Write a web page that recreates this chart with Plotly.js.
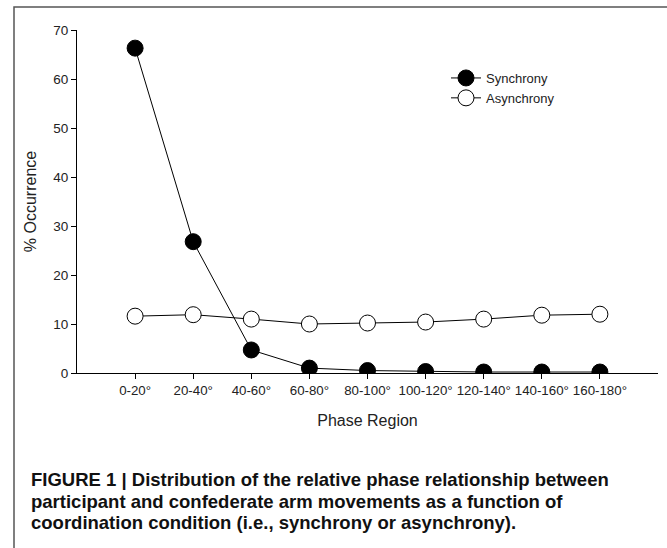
<!DOCTYPE html>
<html>
<head>
<meta charset="utf-8">
<script src="https://cdn.plot.ly/plotly-3.0.1.min.js"></script>
<style>
  html, body { margin: 0; padding: 0; background: #fff; }
  #chart { width: 667px; height: 548px; }
</style>
</head>
<body>
<div id="chart"></div>
<script>
const phaseRegions = ["0-20°", "20-40°", "40-60°", "60-80°", "80-100°", "100-120°", "120-140°", "140-160°", "160-180°"];
const synchrony = [66.3, 26.8, 4.7, 1.0, 0.5, 0.3, 0.2, 0.2, 0.2];
const asynchrony = [11.6, 11.9, 11.0, 10.0, 10.2, 10.4, 11.0, 11.8, 12.0];
const yTicks = [0, 10, 20, 30, 40, 50, 60, 70];
const captionLines = [
  "FIGURE 1 | Distribution of the relative phase relationship between",
  "participant and confederate arm movements as a function of",
  "coordination condition (i.e., synchrony or asynchrony)."
];

const L = 77, R = 9, T = 30, B = 175;
const W = 667, H = 548;
const pw = W - L - R, ph = H - T - B;
const px = x => (x - L) / pw;
const py = y => (H - B - y) / ph;

const traces = [
  {
    x: phaseRegions, y: synchrony, name: "Synchrony", type: "scatter", mode: "lines+markers",
    line: {color: "#000", width: 1},
    marker: {size: 16, color: "#000", line: {color: "#000", width: 1}}
  },
  {
    x: phaseRegions, y: asynchrony, name: "Asynchrony", type: "scatter", mode: "lines+markers",
    line: {color: "#000", width: 1},
    marker: {size: 16, color: "#fff", line: {color: "#000", width: 1}}
  }
];

const captionFont = {family: "Liberation Sans, Arial, sans-serif", size: 18.5, color: "#111"};
const annotations = captionLines.map((t, i) => ({
  text: "<b>" + t + "</b>", xref: "paper", yref: "paper",
  x: px(30), y: py(479.5 + i * 21.5), xanchor: "left", yanchor: "middle",
  showarrow: false, font: captionFont, align: "left", borderpad: 0
}));

const layout = {
  width: W, height: H,
  margin: {l: L, r: R, t: T, b: B},
  paper_bgcolor: "#fff", plot_bgcolor: "#fff",
  font: {family: "Liberation Sans, Arial, sans-serif", size: 13, color: "#222"},
  showlegend: true,
  legend: {x: px(446), y: py(63), xanchor: "left", yanchor: "top", bgcolor: "rgba(0,0,0,0)",
           font: {size: 13, color: "#222"}, tracegroupgap: 0},
  xaxis: {
    type: "category", categoryorder: "array", categoryarray: phaseRegions,
    range: [-1, 9], showline: true, linecolor: "#000", linewidth: 1,
    ticks: "outside", ticklen: 5, tickcolor: "#000", showgrid: false, zeroline: false,
    tickfont: {size: 13.3, color: "#222"},
    title: {text: "Phase Region", font: {size: 16, color: "#222"}, standoff: 17}
  },
  yaxis: {
    range: [0, 70], tickvals: yTicks, showline: true, linecolor: "#000", linewidth: 1,
    ticks: "outside", ticklen: 5, tickcolor: "#000", showgrid: false, zeroline: false,
    tickfont: {size: 13.5, color: "#222"},
    title: {text: "% Occurrence", font: {size: 16, color: "#222"}, standoff: 12}
  },
  annotations: annotations,
  shapes: [{
    type: "rect", xref: "paper", yref: "paper",
    x0: px(14), x1: px(720), y0: py(600), y1: py(7),
    line: {color: "#555", width: 1.5}, fillcolor: "rgba(0,0,0,0)", layer: "below"
  }]
};

Plotly.newPlot("chart", traces, layout, {displayModeBar: false, staticPlot: true});
</script>
</body>
</html>
